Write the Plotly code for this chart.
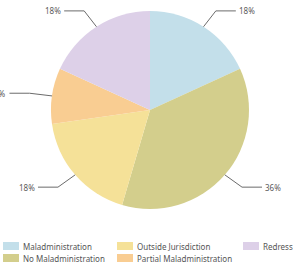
import math
import plotly.graph_objects as go

# ---- data ----
categories = ["Maladministration", "No Maladministration", "Outside Jurisdiction",
              "Partial Maladministration", "Redress"]
values = [2, 4, 2, 1, 2]
colors = ["#c3dfea", "#d3ce8c", "#f5e198", "#f9cd92", "#ddd0e8"]
# legend layout order (row-major as shown in the reference)
legend_rows = [["Maladministration", "Outside Jurisdiction", "Redress"],
               ["No Maladministration", "Partial Maladministration"]]

W, H = 293, 266
CX, CY, R = 150, 110, 99


def px(x):
    return x / W


def py(y):
    return 1 - y / H


fig = go.Figure()
fig.add_trace(go.Pie(
    labels=categories, values=values, sort=False, direction="clockwise",
    rotation=0, textinfo="none", hoverinfo="label+percent",
    marker=dict(colors=colors, line=dict(width=0)),
    showlegend=False,
    domain=dict(x=[px(CX - R), px(CX + R)], y=[py(CY + R), py(CY - R)]),
))

shapes = []
annotations = []
total = sum(values)
cum = 0
line_col = "#6b6b6b"
for cat, v in zip(categories, values):
    mid = (cum + v / 2) / total * 2 * math.pi
    cum += v
    s, c = math.sin(mid), math.cos(mid)
    ex, ey = CX + R * s, CY - R * c
    bx, by = CX + R * 1.23 * s, CY - R * 1.19 * c
    side = 1 if s >= 0 else -1
    hx = bx + side * 20
    shapes.append(dict(type="path", xref="paper", yref="paper",
                       path=f"M{px(ex)},{py(ey)} L{px(bx)},{py(by)} L{px(hx)},{py(by)}",
                       line=dict(color=line_col, width=1)))
    pct = f"{round(v / total * 100)}%"
    annotations.append(dict(x=px(hx + side * 2), y=py(by), xref="paper", yref="paper",
                            text=pct, showarrow=False, borderpad=0,
                            xanchor="left" if side > 0 else "right", yanchor="middle",
                            font=dict(size=8, color="#5a5a5a", family="Noto Sans")))

# ---- legend ----
col_x = [3, 117, 243]
row_y = [246, 258]
color_of = dict(zip(categories, colors))
for ri, row in enumerate(legend_rows):
    for ci, cat in enumerate(row):
        x0 = col_x[ci]
        yc = row_y[ri]
        shapes.append(dict(type="rect", xref="paper", yref="paper",
                           x0=px(x0), x1=px(x0 + 16), y0=py(yc + 4), y1=py(yc - 4),
                           fillcolor=color_of[cat], line=dict(width=0)))
        annotations.append(dict(x=px(x0 + 19), y=py(yc), xref="paper", yref="paper",
                                text=cat, showarrow=False, borderpad=0,
                                xanchor="left", yanchor="middle",
                                font=dict(size=8, color="#555555", family="Noto Sans")))

fig.update_layout(
    width=W, height=H, margin=dict(l=0, r=0, t=0, b=0),
    paper_bgcolor="white", plot_bgcolor="white",
    shapes=shapes, annotations=annotations, showlegend=False,
)
fig.write_html("out.html", config={"displayModeBar": False},
               post_script="document.body.style.margin='0';document.body.style.overflow='hidden';")
